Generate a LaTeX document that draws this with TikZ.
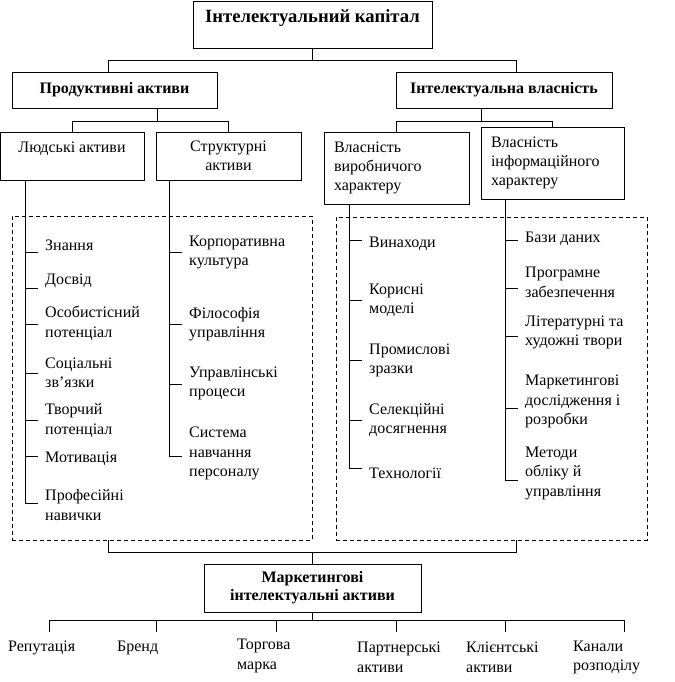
\documentclass[tikz,border=0pt]{standalone}
\usepackage{fontspec}
\setmainfont{Liberation Serif}
\usetikzlibrary{positioning,calc}

\tikzset{
  box/.style={draw, line width=0.9pt, inner sep=0pt, align=center, font=\fontsize{16}{19}\selectfont},
  head/.style={box, font=\bfseries\fontsize{16}{18}\selectfont},
  item/.style={anchor=west, inner sep=0pt, align=left, font=\fontsize{16}{19.5}\selectfont},
  group/.style={draw, dash pattern=on 4pt off 3pt, line width=0.9pt, inner sep=0pt},
  link/.style={line width=0.9pt}
}

\begin{document}
\begin{tikzpicture}[x=1pt, y=-1pt]
    \useasboundingbox (0,0) rectangle (674,682);

    % Top levels
    \node[head, font=\bfseries\fontsize{18.67}{22}\selectfont, minimum width=239pt, minimum height=47pt, text depth=17pt] (cap) at (312.5,24.5) {Інтелектуальний капітал};
    \node[head, minimum width=205pt, minimum height=36pt] (prod) at (114.5,90) {Продуктивні активи};
    \node[head, minimum width=216pt, minimum height=36pt] (ip) at (504,90) {Інтелектуальна власність};
    \draw[link] (cap.south) -- ++(0,12) coordinate (j1);
    \draw[link] ([xshift=-6.5pt]prod.north) |- (j1) -| ([xshift=12pt]ip.north);

    \node[box, minimum width=144pt, minimum height=48pt, text depth=17pt] (hum) at (72,156) {Людські активи};
    \node[box, minimum width=145pt, minimum height=48pt] (str) at (228.5,156) {Структурні\\активи};
    \node[box, minimum width=145pt, minimum height=72pt, text width=125pt, align=left] (pp) at (396.5,168) {Власність\\виробничого\\характеру};
    \node[box, minimum width=143pt, minimum height=72pt, text width=123pt, align=left] (inf) at (552.5,163) {Власність\\інформаційного\\характеру};
    \draw[link] ([xshift=42.5pt]prod.south) -- ++(0,13) coordinate (j2);
    \draw[link] (hum.north) |- (j2) -| (str.north);
    \draw[link] ([xshift=-23pt]ip.south) -- ++(0,13) coordinate (j3);
    \draw[link] (pp.north) |- (j3) -| (inf.north);

    % Groups
    \node[group, minimum width=300pt, minimum height=324pt] (gl) at (162,378) {};
    \node[group, minimum width=311pt, minimum height=323pt] (gr) at (491.5,378.5) {};

    % Lists
    \draw[link] ([xshift=-47pt]hum.south) -- (25,503);
    \foreach \ty/\cy/\txt [count=\i] in {252/245/Знання, 288/281/Досвід, 324/323.5/{Особистісний\\потенціал}, 373/373/{Соціальні\\зв’язки}, 420/420.5/{Творчий\\потенціал}, 456/459/Мотивація, 503/505/{Професійні\\навички}} {
        \node[item] (h\i) at (45,\cy) {\txt};
        \draw[link] (25,\ty) -- (38,\ty);
    }
    \draw[link] ([xshift=-59.5pt]str.south) -- (169,456);
    \foreach \ty/\cy/\txt [count=\i] in {252/252.5/{Корпоративна\\культура}, 324/324/{Філософія\\управління}, 384/383.5/{Управлінські\\процеси}, 456/453.5/{Система\\навчання\\персоналу}} {
        \node[item] (s\i) at (189,\cy) {\txt};
        \draw[link] (169,\ty) -- (182,\ty);
    }
    \draw[link] ([xshift=-47.5pt]pp.south) -- (349,468);
    \foreach \ty/\cy/\txt [count=\i] in {240/244/Винаходи, 300/300/{Корисні\\моделі}, 360/360.5/{Промислові\\зразки}, 420/420/{Селекційні\\досягнення}, 468/473/Технології} {
        \node[item] (p\i) at (369,\cy) {\txt};
        \draw[link] (349,\ty) -- (362,\ty);
    }
    \draw[link] ([xshift=-47.5pt]inf.south) -- (505,480);
    \foreach \ty/\cy/\txt [count=\i] in {240/239/Бази даних, 288/282.5/{Програмне\\забезпечення}, 336/332.5/{Літературні та\\художні твори}, 408/401.5/{Маркетингові\\дослідження і\\розробки}, 480/473/{Методи\\обліку й\\управління}} {
        \node[item] (i\i) at (525,\cy) {\txt};
        \draw[link] (505,\ty) -- (518,\ty);
    }

    % Marketing
    \draw[link] ([xshift=-54pt]gl.south) -- ++(0,12) coordinate (j4);
    \draw[link] (j4) -| ([xshift=24.5pt]gr.south);
    \node[head, minimum width=217pt, minimum height=48pt] (mkt) at (312.5,588) {Маркетингові\\інтелектуальні активи};
    \draw[link] (mkt.north) -- (mkt.north |- j4);
    \draw[link] (mkt.south) -- ++(0,8) coordinate (j5);
    \draw[link] (49,620) -- (624,620);
    \foreach \tx/\lx/\cy/\txt [count=\i] in {49/8/648/Репутація, 156/117/648/Бренд, 276/237/656/{Торгова\\марка}, 396/357/657.5/{Партнерські\\активи}, 505/466/657.5/{Клієнтські\\активи}, 624/573/657.5/{Канали\\розподілу}} {
        \draw[link] (\tx,620) -- (\tx,632);
        \node[item] (m\i) at (\lx,\cy) {\txt};
    }
\end{tikzpicture}
\end{document}
